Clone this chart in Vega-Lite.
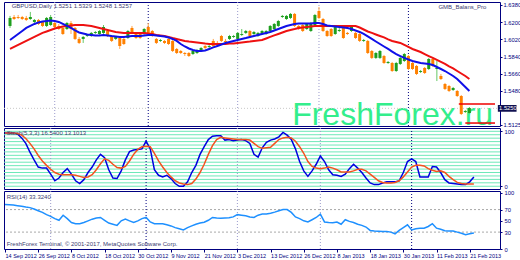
{
"$schema":"https://vega.github.io/schema/vega-lite/v6.json",
"padding":{"left":1,"top":1,"right":0,"bottom":0},
"background":"white",
"spacing":2,
"bounds":"flush",
"resolve":{"scale":{"x":"independent","y":"independent"}},
"config":{"view":{"stroke":"#000080","strokeWidth":1},"axis":{"labelFont":"Liberation Sans","grid":false,"domain":false,"labelColor":"#000080","tickColor":"#000080","labelFontSize":5.8,"tickSize":2,"title":null,"labelOverlap":false,"labelSeparation":0},"text":{"font":"Liberation Sans"}},
"datasets":{
"bars":[
{"i":0,"o":1.6160,"h":1.6265,"l":1.6139,"c":1.6244,"f":1.6013,"s":1.5919,"k":97,"d":97,"r":79},
{"i":1,"o":1.6254,"h":1.6275,"l":1.6223,"c":1.6233,"f":1.6045,"s":1.5940,"k":97,"d":97,"r":78.5},
{"i":2,"o":1.6254,"h":1.6275,"l":1.6233,"c":1.6244,"f":1.6076,"s":1.5961,"k":97,"d":97,"r":78},
{"i":3,"o":1.6254,"h":1.6265,"l":1.6223,"c":1.6233,"f":1.6107,"s":1.5982,"k":95,"d":96,"r":77},
{"i":4,"o":1.6244,"h":1.6265,"l":1.6212,"c":1.6223,"f":1.6139,"s":1.6003,"k":88,"d":93,"r":76},
{"i":5,"o":1.6233,"h":1.6307,"l":1.6223,"c":1.6254,"f":1.6160,"s":1.6024,"k":78,"d":87,"r":74.5},
{"i":6,"o":1.6202,"h":1.6233,"l":1.6191,"c":1.6223,"f":1.6181,"s":1.6045,"k":62,"d":78,"r":73.5},
{"i":7,"o":1.6223,"h":1.6233,"l":1.6170,"c":1.6181,"f":1.6197,"s":1.6066,"k":48,"d":68,"r":71},
{"i":8,"o":1.6202,"h":1.6212,"l":1.6149,"c":1.6160,"f":1.6207,"s":1.6087,"k":35,"d":56,"r":68},
{"i":9,"o":1.6160,"h":1.6254,"l":1.6149,"c":1.6244,"f":1.6212,"s":1.6102,"k":33,"d":46,"r":65},
{"i":10,"o":1.6170,"h":1.6275,"l":1.6160,"c":1.6254,"f":1.6218,"s":1.6118,"k":33,"d":38,"r":61},
{"i":11,"o":1.6191,"h":1.6212,"l":1.6139,"c":1.6149,"f":1.6212,"s":1.6134,"k":22,"d":31,"r":58},
{"i":12,"o":1.6160,"h":1.6181,"l":1.6118,"c":1.6128,"f":1.6202,"s":1.6144,"k":10,"d":25,"r":54},
{"i":13,"o":1.6139,"h":1.6149,"l":1.6066,"c":1.6076,"f":1.6181,"s":1.6155,"k":15,"d":22,"r":51},
{"i":14,"o":1.6128,"h":1.6202,"l":1.6118,"c":1.6191,"f":1.6160,"s":1.6160,"k":25,"d":21,"r":60},
{"i":15,"o":1.6191,"h":1.6212,"l":1.6076,"c":1.6128,"f":1.6139,"s":1.6165,"k":32,"d":21,"r":54},
{"i":16,"o":1.6139,"h":1.6149,"l":1.6013,"c":1.6024,"f":1.6113,"s":1.6170,"k":22,"d":21,"r":47},
{"i":17,"o":1.6024,"h":1.6045,"l":1.5971,"c":1.5982,"f":1.6092,"s":1.6170,"k":10,"d":20,"r":45},
{"i":18,"o":1.6024,"h":1.6055,"l":1.5982,"c":1.6045,"f":1.6081,"s":1.6170,"k":5,"d":18,"r":45},
{"i":19,"o":1.6055,"h":1.6076,"l":1.6045,"c":1.6066,"f":1.6071,"s":1.6165,"k":12,"d":16,"r":47},
{"i":20,"o":1.6055,"h":1.6097,"l":1.6045,"c":1.6087,"f":1.6066,"s":1.6160,"k":25,"d":17,"r":50},
{"i":21,"o":1.6087,"h":1.6107,"l":1.6076,"c":1.6097,"f":1.6061,"s":1.6149,"k":35,"d":21,"r":53},
{"i":22,"o":1.6076,"h":1.6118,"l":1.6066,"c":1.6107,"f":1.6061,"s":1.6139,"k":48,"d":30,"r":55},
{"i":23,"o":1.6087,"h":1.6170,"l":1.6076,"c":1.6149,"f":1.6066,"s":1.6128,"k":58,"d":41,"r":56},
{"i":24,"o":1.6107,"h":1.6128,"l":1.6045,"c":1.6055,"f":1.6061,"s":1.6118,"k":52,"d":50,"r":51},
{"i":25,"o":1.6055,"h":1.6066,"l":1.5992,"c":1.6003,"f":1.6055,"s":1.6107,"k":30,"d":47,"r":46},
{"i":26,"o":1.6024,"h":1.6055,"l":1.6013,"c":1.6045,"f":1.6050,"s":1.6097,"k":15,"d":40,"r":44},
{"i":27,"o":1.6034,"h":1.6045,"l":1.5919,"c":1.5950,"f":1.6045,"s":1.6092,"k":14,"d":34,"r":42},
{"i":28,"o":1.6024,"h":1.6045,"l":1.5961,"c":1.5971,"f":1.6045,"s":1.6087,"k":28,"d":33,"r":50},
{"i":29,"o":1.6034,"h":1.6118,"l":1.6024,"c":1.6107,"f":1.6050,"s":1.6087,"k":48,"d":36,"r":53},
{"i":30,"o":1.6139,"h":1.6160,"l":1.6076,"c":1.6087,"f":1.6055,"s":1.6087,"k":63,"d":46,"r":50},
{"i":31,"o":1.6087,"h":1.6097,"l":1.6024,"c":1.6034,"f":1.6055,"s":1.6087,"k":66,"d":58,"r":47},
{"i":32,"o":1.6076,"h":1.6097,"l":1.6024,"c":1.6034,"f":1.6055,"s":1.6087,"k":67,"d":67,"r":50},
{"i":33,"o":1.6076,"h":1.6139,"l":1.6066,"c":1.6128,"f":1.6061,"s":1.6087,"k":68,"d":72,"r":54},
{"i":34,"o":1.6149,"h":1.6191,"l":1.6066,"c":1.6076,"f":1.6066,"s":1.6081,"k":82,"d":73,"r":56},
{"i":35,"o":1.6107,"h":1.6118,"l":1.6045,"c":1.6055,"f":1.6066,"s":1.6076,"k":68,"d":72,"r":48},
{"i":36,"o":1.6024,"h":1.6034,"l":1.5971,"c":1.5982,"f":1.6061,"s":1.6066,"k":30,"d":60,"r":45},
{"i":37,"o":1.6003,"h":1.6024,"l":1.5992,"c":1.6013,"f":1.6055,"s":1.6061,"k":20,"d":46,"r":45},
{"i":38,"o":1.6003,"h":1.6013,"l":1.5971,"c":1.5982,"f":1.6050,"s":1.6055,"k":17,"d":35,"r":45},
{"i":39,"o":1.6024,"h":1.6034,"l":1.5961,"c":1.5971,"f":1.6040,"s":1.6045,"k":20,"d":25,"r":43},
{"i":40,"o":1.6003,"h":1.6013,"l":1.5887,"c":1.5898,"f":1.6024,"s":1.6034,"k":14,"d":17,"r":41},
{"i":41,"o":1.5919,"h":1.5929,"l":1.5866,"c":1.5877,"f":1.6003,"s":1.6024,"k":5,"d":10,"r":38},
{"i":42,"o":1.5898,"h":1.5908,"l":1.5866,"c":1.5877,"f":1.5971,"s":1.6013,"k":0,"d":6,"r":36},
{"i":43,"o":1.5877,"h":1.5887,"l":1.5845,"c":1.5866,"f":1.5945,"s":1.6003,"k":0,"d":4,"r":34},
{"i":44,"o":1.5877,"h":1.5887,"l":1.5835,"c":1.5845,"f":1.5924,"s":1.5997,"k":8,"d":3,"r":38},
{"i":45,"o":1.5866,"h":1.5908,"l":1.5856,"c":1.5898,"f":1.5908,"s":1.5992,"k":25,"d":5,"r":41},
{"i":46,"o":1.5877,"h":1.5919,"l":1.5866,"c":1.5908,"f":1.5898,"s":1.5987,"k":38,"d":13,"r":44},
{"i":47,"o":1.5908,"h":1.5940,"l":1.5898,"c":1.5929,"f":1.5898,"s":1.5982,"k":58,"d":25,"r":46},
{"i":48,"o":1.5950,"h":1.5961,"l":1.5919,"c":1.5929,"f":1.5903,"s":1.5976,"k":72,"d":40,"r":47.5},
{"i":49,"o":1.5940,"h":1.5971,"l":1.5929,"c":1.5950,"f":1.5919,"s":1.5971,"k":85,"d":58,"r":51},
{"i":50,"o":1.6003,"h":1.6024,"l":1.5940,"c":1.5950,"f":1.5935,"s":1.5971,"k":91,"d":74,"r":56},
{"i":51,"o":1.5982,"h":1.6003,"l":1.5961,"c":1.5971,"f":1.5950,"s":1.5971,"k":92,"d":85,"r":55},
{"i":52,"o":1.6055,"h":1.6066,"l":1.5992,"c":1.6003,"f":1.5966,"s":1.5971,"k":92,"d":89,"r":54.5},
{"i":53,"o":1.6003,"h":1.6024,"l":1.5982,"c":1.5992,"f":1.5982,"s":1.5971,"k":84,"d":88,"r":55},
{"i":54,"o":1.6024,"h":1.6066,"l":1.6013,"c":1.6055,"f":1.5992,"s":1.5976,"k":85,"d":87,"r":55.5},
{"i":55,"o":1.6045,"h":1.6066,"l":1.6034,"c":1.6055,"f":1.6003,"s":1.5976,"k":83,"d":86,"r":57},
{"i":56,"o":1.6024,"h":1.6097,"l":1.6013,"c":1.6087,"f":1.6013,"s":1.5982,"k":84,"d":85,"r":61},
{"i":57,"o":1.6066,"h":1.6128,"l":1.6055,"c":1.6076,"f":1.6024,"s":1.5987,"k":85,"d":85,"r":60},
{"i":58,"o":1.6087,"h":1.6118,"l":1.6076,"c":1.6107,"f":1.6034,"s":1.5992,"k":83,"d":85,"r":59},
{"i":59,"o":1.6107,"h":1.6118,"l":1.6045,"c":1.6055,"f":1.6045,"s":1.5997,"k":78,"d":84,"r":57},
{"i":60,"o":1.6076,"h":1.6107,"l":1.6066,"c":1.6097,"f":1.6055,"s":1.6003,"k":58,"d":78,"r":56},
{"i":61,"o":1.6055,"h":1.6097,"l":1.6045,"c":1.6087,"f":1.6066,"s":1.6008,"k":53,"d":72,"r":60},
{"i":62,"o":1.6076,"h":1.6118,"l":1.6066,"c":1.6107,"f":1.6076,"s":1.6013,"k":70,"d":69,"r":62},
{"i":63,"o":1.6076,"h":1.6118,"l":1.6066,"c":1.6107,"f":1.6087,"s":1.6029,"k":80,"d":70,"r":62},
{"i":64,"o":1.6107,"h":1.6170,"l":1.6097,"c":1.6160,"f":1.6097,"s":1.6045,"k":84,"d":71,"r":63.5},
{"i":65,"o":1.6128,"h":1.6191,"l":1.6118,"c":1.6181,"f":1.6113,"s":1.6061,"k":86,"d":78,"r":65.5},
{"i":66,"o":1.6160,"h":1.6223,"l":1.6149,"c":1.6212,"f":1.6128,"s":1.6076,"k":90,"d":85,"r":68},
{"i":67,"o":1.6254,"h":1.6275,"l":1.6244,"c":1.6265,"f":1.6144,"s":1.6092,"k":98,"d":88,"r":70},
{"i":68,"o":1.6233,"h":1.6275,"l":1.6223,"c":1.6265,"f":1.6160,"s":1.6107,"k":93,"d":89,"r":70},
{"i":69,"o":1.6244,"h":1.6296,"l":1.6233,"c":1.6286,"f":1.6170,"s":1.6118,"k":85,"d":88,"r":65},
{"i":70,"o":1.6286,"h":1.6296,"l":1.6149,"c":1.6160,"f":1.6181,"s":1.6128,"k":68,"d":82,"r":57},
{"i":71,"o":1.6160,"h":1.6170,"l":1.6118,"c":1.6128,"f":1.6186,"s":1.6139,"k":45,"d":72,"r":54},
{"i":72,"o":1.6170,"h":1.6181,"l":1.6097,"c":1.6107,"f":1.6186,"s":1.6144,"k":28,"d":60,"r":50},
{"i":73,"o":1.6128,"h":1.6191,"l":1.6118,"c":1.6181,"f":1.6186,"s":1.6149,"k":18,"d":45,"r":48},
{"i":74,"o":1.6107,"h":1.6202,"l":1.6097,"c":1.6191,"f":1.6186,"s":1.6155,"k":28,"d":36,"r":52},
{"i":75,"o":1.6170,"h":1.6286,"l":1.6160,"c":1.6275,"f":1.6191,"s":1.6160,"k":40,"d":33,"r":56},
{"i":76,"o":1.6317,"h":1.6359,"l":1.6233,"c":1.6244,"f":1.6191,"s":1.6160,"k":55,"d":32,"r":62},
{"i":77,"o":1.6233,"h":1.6244,"l":1.6097,"c":1.6107,"f":1.6181,"s":1.6160,"k":45,"d":33,"r":48},
{"i":78,"o":1.6107,"h":1.6118,"l":1.6045,"c":1.6055,"f":1.6165,"s":1.6160,"k":30,"d":35,"r":47},
{"i":79,"o":1.6128,"h":1.6139,"l":1.6045,"c":1.6055,"f":1.6160,"s":1.6160,"k":21,"d":33,"r":46.5},
{"i":80,"o":1.6076,"h":1.6160,"l":1.6066,"c":1.6149,"f":1.6155,"s":1.6160,"k":20,"d":30,"r":48},
{"i":81,"o":1.6107,"h":1.6139,"l":1.6097,"c":1.6118,"f":1.6149,"s":1.6160,"k":18,"d":26,"r":44},
{"i":82,"o":1.6160,"h":1.6170,"l":1.6024,"c":1.6034,"f":1.6144,"s":1.6160,"k":22,"d":26,"r":52},
{"i":83,"o":1.6087,"h":1.6097,"l":1.6066,"c":1.6076,"f":1.6139,"s":1.6160,"k":32,"d":26,"r":49},
{"i":84,"o":1.6107,"h":1.6170,"l":1.6097,"c":1.6160,"f":1.6128,"s":1.6160,"k":40,"d":28,"r":47},
{"i":85,"o":1.6087,"h":1.6097,"l":1.6024,"c":1.6034,"f":1.6113,"s":1.6160,"k":33,"d":31,"r":44},
{"i":86,"o":1.6076,"h":1.6087,"l":1.5992,"c":1.6003,"f":1.6097,"s":1.6144,"k":25,"d":31,"r":42},
{"i":87,"o":1.6003,"h":1.6024,"l":1.5992,"c":1.6013,"f":1.6076,"s":1.6123,"k":15,"d":28,"r":39},
{"i":88,"o":1.6003,"h":1.6013,"l":1.5866,"c":1.5877,"f":1.6050,"s":1.6102,"k":6,"d":22,"r":33},
{"i":89,"o":1.5898,"h":1.5908,"l":1.5814,"c":1.5825,"f":1.6024,"s":1.6087,"k":3,"d":16,"r":32},
{"i":90,"o":1.5825,"h":1.5887,"l":1.5814,"c":1.5877,"f":1.5997,"s":1.6071,"k":3,"d":10,"r":31.5},
{"i":91,"o":1.5825,"h":1.5908,"l":1.5814,"c":1.5898,"f":1.5971,"s":1.6055,"k":6,"d":7,"r":31},
{"i":92,"o":1.5845,"h":1.5856,"l":1.5762,"c":1.5772,"f":1.5945,"s":1.6040,"k":8,"d":6,"r":31},
{"i":93,"o":1.5772,"h":1.5793,"l":1.5762,"c":1.5783,"f":1.5919,"s":1.6019,"k":8,"d":6,"r":30},
{"i":94,"o":1.5772,"h":1.5783,"l":1.5678,"c":1.5688,"f":1.5892,"s":1.6003,"k":8,"d":7,"r":27},
{"i":95,"o":1.5688,"h":1.5783,"l":1.5678,"c":1.5772,"f":1.5866,"s":1.5992,"k":10,"d":10,"r":33},
{"i":96,"o":1.5762,"h":1.5835,"l":1.5751,"c":1.5825,"f":1.5845,"s":1.5982,"k":25,"d":17,"r":38},
{"i":97,"o":1.5793,"h":1.5877,"l":1.5783,"c":1.5866,"f":1.5825,"s":1.5961,"k":45,"d":26,"r":43},
{"i":98,"o":1.5845,"h":1.5856,"l":1.5699,"c":1.5709,"f":1.5809,"s":1.5940,"k":50,"d":35,"r":34},
{"i":99,"o":1.5772,"h":1.5783,"l":1.5699,"c":1.5709,"f":1.5793,"s":1.5919,"k":45,"d":38,"r":36},
{"i":100,"o":1.5741,"h":1.5751,"l":1.5646,"c":1.5657,"f":1.5783,"s":1.5903,"k":17,"d":38,"r":37},
{"i":101,"o":1.5678,"h":1.5699,"l":1.5667,"c":1.5688,"f":1.5772,"s":1.5887,"k":17,"d":37,"r":37},
{"i":102,"o":1.5720,"h":1.5730,"l":1.5657,"c":1.5667,"f":1.5767,"s":1.5866,"k":17,"d":32,"r":40},
{"i":103,"o":1.5709,"h":1.5825,"l":1.5699,"c":1.5814,"f":1.5762,"s":1.5845,"k":36,"d":29,"r":45},
{"i":104,"o":1.5814,"h":1.5825,"l":1.5730,"c":1.5741,"f":1.5751,"s":1.5825,"k":35,"d":27,"r":37},
{"i":105,"o":1.5709,"h":1.5793,"l":1.5583,"c":1.5720,"f":1.5730,"s":1.5804,"k":25,"d":28,"r":35},
{"i":106,"o":1.5636,"h":1.5657,"l":1.5594,"c":1.5604,"f":1.5709,"s":1.5783,"k":12,"d":25,"r":32.5},
{"i":107,"o":1.5552,"h":1.5563,"l":1.5489,"c":1.5500,"f":1.5688,"s":1.5762,"k":6,"d":18,"r":32},
{"i":108,"o":1.5531,"h":1.5542,"l":1.5468,"c":1.5479,"f":1.5662,"s":1.5736,"k":5,"d":12,"r":32},
{"i":109,"o":1.5489,"h":1.5521,"l":1.5479,"c":1.5510,"f":1.5636,"s":1.5715,"k":4,"d":7,"r":30},
{"i":110,"o":1.5479,"h":1.5489,"l":1.5416,"c":1.5426,"f":1.5604,"s":1.5688,"k":3,"d":5,"r":28},
{"i":111,"o":1.5426,"h":1.5437,"l":1.5227,"c":1.5238,"f":1.5563,"s":1.5662,"k":3,"d":4,"r":25.5},
{"i":112,"o":1.5259,"h":1.5280,"l":1.5248,"c":1.5269,"f":1.5521,"s":1.5636,"k":8,"d":4,"r":27},
{"i":113,"o":1.5248,"h":1.5311,"l":1.5238,"c":1.5300,"f":1.5479,"s":1.5604,"k":17,"d":4,"r":28.5}
],
"seps":[{"i":11,"kind":"minor"},{"i":34,"kind":"major"},{"i":56,"kind":"minor"},{"i":76,"kind":"minor"},{"i":98,"kind":"major"}],
"lvls":[{"p":1.5342,"a":110.4,"b":119.3},{"p":1.5143,"a":112,"b":119.3}],
"stlv":[{"v":0},{"v":6.25},{"v":12.5},{"v":18.75},{"v":25},{"v":31.25},{"v":37.5},{"v":43.75},{"v":50},{"v":56.25},{"v":62.5},{"v":68.75},{"v":75},{"v":81.25},{"v":87.5},{"v":93.75},{"v":100}],
"rl":[{"v":70},{"v":30}]
},
"vconcat":[
{
"width":496,"height":124,
"layer":[
{"data":{"name":"seps"},"mark":{"type":"rule","strokeDash":[1,2],"strokeWidth":1},
 "encoding":{"x":{"field":"i","type":"quantitative","scale":{"domain":[-0.25,119.3],"nice":false,"zero":false},"axis":null},
 "color":{"condition":{"test":"datum.kind=='major'","value":"#000080"},"value":"#9a9acc"}}},
{"data":{"values":[{}]},"mark":{"type":"text","text":"FreshForex.ru","font":"Liberation Sans","fontSize":32,"color":"#33ee8c","align":"left","baseline":"alphabetic"},
 "encoding":{"x":{"datum":69.4,"type":"quantitative"},"y":{"datum":1.5125,"type":"quantitative","scale":{"domain":[1.5112,1.6411],"zero":false,"nice":false},"axis":{"orient":"right","values":[1.638,1.62,1.602,1.584,1.566,1.548,1.5125],"format":".4f","labelPadding":1,"labelOverlap":false}}}},
{"data":{"values":[{}]},"mark":{"type":"rule","color":"#c8c8c8","strokeDash":[1,2]},
 "encoding":{"y":{"datum":1.5297,"type":"quantitative","axis":{"orient":"right","values":[1.638,1.62,1.602,1.584,1.566,1.548,1.5125],"format":".4f","labelPadding":1,"labelOverlap":false}}}},
{"data":{"name":"bars"},"mark":{"type":"rule","strokeWidth":1},
 "encoding":{"x":{"field":"i","type":"quantitative"},
 "y":{"field":"l","type":"quantitative","scale":{"domain":[1.5112,1.6411],"zero":false,"nice":false},"axis":{"orient":"right","values":[1.638,1.62,1.602,1.584,1.566,1.548,1.5125],"format":".4f","labelPadding":1,"labelOverlap":false}},"y2":{"field":"h"},
 "color":{"condition":{"test":"datum.c>=datum.o","value":"#66c866"},"value":"#ffa64d"}}},
{"data":{"name":"bars"},"mark":{"type":"bar","size":3},
 "encoding":{"x":{"field":"i","type":"quantitative"},"y":{"field":"o","type":"quantitative","scale":{"domain":[1.5112,1.6411],"zero":false,"nice":false},"axis":{"orient":"right","values":[1.638,1.62,1.602,1.584,1.566,1.548,1.5125],"format":".4f","labelPadding":1,"labelOverlap":false}},"y2":{"field":"c"},
 "color":{"condition":{"test":"datum.c>=datum.o","value":"#1e9e1e"},"value":"#ff8000"}}},
{"data":{"name":"bars"},"mark":{"type":"line","color":"#ee1111","strokeWidth":2},
 "encoding":{"x":{"field":"i","type":"quantitative"},"y":{"field":"s","type":"quantitative","axis":{"orient":"right","values":[1.638,1.62,1.602,1.584,1.566,1.548,1.5125],"format":".4f","labelPadding":1,"labelOverlap":false}}}},
{"data":{"name":"bars"},"mark":{"type":"line","color":"#1010e8","strokeWidth":2},
 "encoding":{"x":{"field":"i","type":"quantitative"},"y":{"field":"f","type":"quantitative","axis":{"orient":"right","values":[1.638,1.62,1.602,1.584,1.566,1.548,1.5125],"format":".4f","labelPadding":1,"labelOverlap":false}}}},
{"data":{"name":"lvls"},"mark":{"type":"rule","color":"#ee0000","strokeWidth":1.5},
 "encoding":{"x":{"field":"a","type":"quantitative"},"x2":{"field":"b"},"y":{"field":"p","type":"quantitative","axis":{"orient":"right","values":[1.638,1.62,1.602,1.584,1.566,1.548,1.5125],"format":".4f","labelPadding":1,"labelOverlap":false}}}},
{"data":{"values":[{}]},"mark":{"type":"text","text":"GBPUSD,Daily  1.5251 1.5329 1.5248 1.5257","fontSize":6,"color":"#404070","align":"left","baseline":"middle"},
 "encoding":{"x":{"datum":0.4,"type":"quantitative"},"y":{"datum":1.6368,"type":"quantitative","axis":{"orient":"right","values":[1.638,1.62,1.602,1.584,1.566,1.548,1.5125],"format":".4f","labelPadding":1,"labelOverlap":false}}}},
{"data":{"values":[{}]},"mark":{"type":"text","text":"GMB_Balans_Pro","fontSize":6,"color":"#404070","align":"right","baseline":"middle"},
 "encoding":{"x":{"datum":117.2,"type":"quantitative"},"y":{"datum":1.6355,"type":"quantitative","axis":{"orient":"right","values":[1.638,1.62,1.602,1.584,1.566,1.548,1.5125],"format":".4f","labelPadding":1,"labelOverlap":false}}}},
{"data":{"values":[{}]},"mark":{"type":"rect","color":"#101050"},
 "encoding":{"x":{"datum":120.0,"type":"quantitative"},"x2":{"datum":124.6},"y":{"datum":1.5333,"type":"quantitative","axis":{"orient":"right","values":[1.638,1.62,1.602,1.584,1.566,1.548,1.5125],"format":".4f","labelPadding":1,"labelOverlap":false}},"y2":{"datum":1.5261}}},
{"data":{"values":[{}]},"mark":{"type":"text","text":"1.5250","fontSize":5.8,"color":"white","align":"left","baseline":"middle"},
 "encoding":{"x":{"datum":120.3,"type":"quantitative"},"y":{"datum":1.5297,"type":"quantitative","axis":{"orient":"right","values":[1.638,1.62,1.602,1.584,1.566,1.548,1.5125],"format":".4f","labelPadding":1,"labelOverlap":false}}}}
]
},
{
"width":496,"height":61,
"layer":[
{"data":{"name":"stlv"},"mark":{"type":"rule","color":"#6fe8b8","strokeWidth":1},
 "encoding":{"y":{"field":"v","type":"quantitative","scale":{"domain":[-5,106],"nice":false,"zero":false},"axis":{"orient":"right","values":[0,100],"format":"d","labelOverlap":false}}}},
{"data":{"name":"seps"},"mark":{"type":"rule","strokeDash":[1,2],"strokeWidth":1},
 "encoding":{"x":{"field":"i","type":"quantitative","scale":{"domain":[-0.25,119.3],"nice":false,"zero":false},"axis":null},
 "color":{"condition":{"test":"datum.kind=='major'","value":"#000080"},"value":"#9a9acc"}}},
{"data":{"name":"bars"},"mark":{"type":"line","color":"#0000e0","strokeWidth":1.5},
 "encoding":{"x":{"field":"i","type":"quantitative"},"y":{"field":"k","type":"quantitative","axis":{"orient":"right","values":[0,100],"format":"d","labelOverlap":false}}}},
{"data":{"name":"bars"},"mark":{"type":"line","color":"#f4511e","strokeWidth":1.5},
 "encoding":{"x":{"field":"i","type":"quantitative"},"y":{"field":"d","type":"quantitative","axis":{"orient":"right","values":[0,100],"format":"d","labelOverlap":false}}}},
{"data":{"values":[{}]},"mark":{"type":"text","text":"Stoch(5,3,3) 16.5400 13.1013","fontSize":6,"color":"#404070","align":"left","baseline":"middle"},
 "encoding":{"x":{"datum":0.4,"type":"quantitative"},"y":{"datum":97,"type":"quantitative","axis":{"orient":"right","values":[0,100],"format":"d","labelOverlap":false}}}}
]
},
{
"width":496,"height":58,
"layer":[
{"data":{"name":"rl"},"mark":{"type":"rule","color":"#a8a8a8","strokeDash":[2,2],"strokeWidth":1},
 "encoding":{"y":{"field":"v","type":"quantitative","scale":{"domain":[0,103],"nice":false},"axis":{"orient":"right","values":[0,30,50,70,100],"format":"d","labelOverlap":false}}}},
{"data":{"name":"seps"},"mark":{"type":"rule","strokeDash":[1,2],"strokeWidth":1},
 "encoding":{"x":{"field":"i","type":"quantitative","scale":{"domain":[-0.25,119.3],"nice":false,"zero":false},
 "axis":{"orient":"bottom","values":[0,8,16,24,32,40,48,56,64,72,80,88,96,104,112],"labelAlign":"left","labelPadding":1,"labelOverlap":false,"labelBound":false,"labelFlush":false,"labelFontSize":5.5,"tickSize":3,
 "labelExpr":"['14 Sep 2012','26 Sep 2012','8 Oct 2012','18 Oct 2012','30 Oct 2012','9 Nov 2012','21 Nov 2012','3 Dec 2012','13 Dec 2012','26 Dec 2012','8 Jan 2013','18 Jan 2013','30 Jan 2013','11 Feb 2013','21 Feb 2013'][round(datum.value/8)]"}},
 "color":{"condition":{"test":"datum.kind=='major'","value":"#000080"},"value":"#9a9acc"}}},
{"data":{"name":"bars"},"mark":{"type":"line","color":"#1e90ff","strokeWidth":1.5},
 "encoding":{"x":{"field":"i","type":"quantitative",
 "axis":{"orient":"bottom","values":[0,8,16,24,32,40,48,56,64,72,80,88,96,104,112],"labelAlign":"left","labelPadding":1,"labelOverlap":false,"labelBound":false,"labelFlush":false,"labelFontSize":5.5,"tickSize":3,
 "labelExpr":"['14 Sep 2012','26 Sep 2012','8 Oct 2012','18 Oct 2012','30 Oct 2012','9 Nov 2012','21 Nov 2012','3 Dec 2012','13 Dec 2012','26 Dec 2012','8 Jan 2013','18 Jan 2013','30 Jan 2013','11 Feb 2013','21 Feb 2013'][round(datum.value/8)]"}},
 "y":{"field":"r","type":"quantitative","axis":{"orient":"right","values":[0,30,50,70,100],"format":"d","labelOverlap":false}}}},
{"data":{"values":[{}]},"mark":{"type":"text","text":"RSI(14) 33.3240","fontSize":6,"color":"#404070","align":"left","baseline":"middle"},
 "encoding":{"x":{"datum":0.4,"type":"quantitative",
 "axis":{"orient":"bottom","values":[0,8,16,24,32,40,48,56,64,72,80,88,96,104,112],"labelAlign":"left","labelPadding":1,"labelOverlap":false,"labelBound":false,"labelFlush":false,"labelFontSize":5.5,"tickSize":3,
 "labelExpr":"['14 Sep 2012','26 Sep 2012','8 Oct 2012','18 Oct 2012','30 Oct 2012','9 Nov 2012','21 Nov 2012','3 Dec 2012','13 Dec 2012','26 Dec 2012','8 Jan 2013','18 Jan 2013','30 Jan 2013','11 Feb 2013','21 Feb 2013'][round(datum.value/8)]"}},
 "y":{"datum":93,"type":"quantitative","axis":{"orient":"right","values":[0,30,50,70,100],"format":"d","labelOverlap":false}}}},
{"data":{"values":[{}]},"mark":{"type":"text","text":"FreshForex Terminal, © 2001-2017, MetaQuotes Software Corp.","fontSize":6,"color":"#404070","align":"left","baseline":"middle"},
 "encoding":{"x":{"datum":0.4,"type":"quantitative",
 "axis":{"orient":"bottom","values":[0,8,16,24,32,40,48,56,64,72,80,88,96,104,112],"labelAlign":"left","labelPadding":1,"labelOverlap":false,"labelBound":false,"labelFlush":false,"labelFontSize":5.5,"tickSize":3,
 "labelExpr":"['14 Sep 2012','26 Sep 2012','8 Oct 2012','18 Oct 2012','30 Oct 2012','9 Nov 2012','21 Nov 2012','3 Dec 2012','13 Dec 2012','26 Dec 2012','8 Jan 2013','18 Jan 2013','30 Jan 2013','11 Feb 2013','21 Feb 2013'][round(datum.value/8)]"}},
 "y":{"datum":8,"type":"quantitative","axis":{"orient":"right","values":[0,30,50,70,100],"format":"d","labelOverlap":false}}}}
]
}
]
}
